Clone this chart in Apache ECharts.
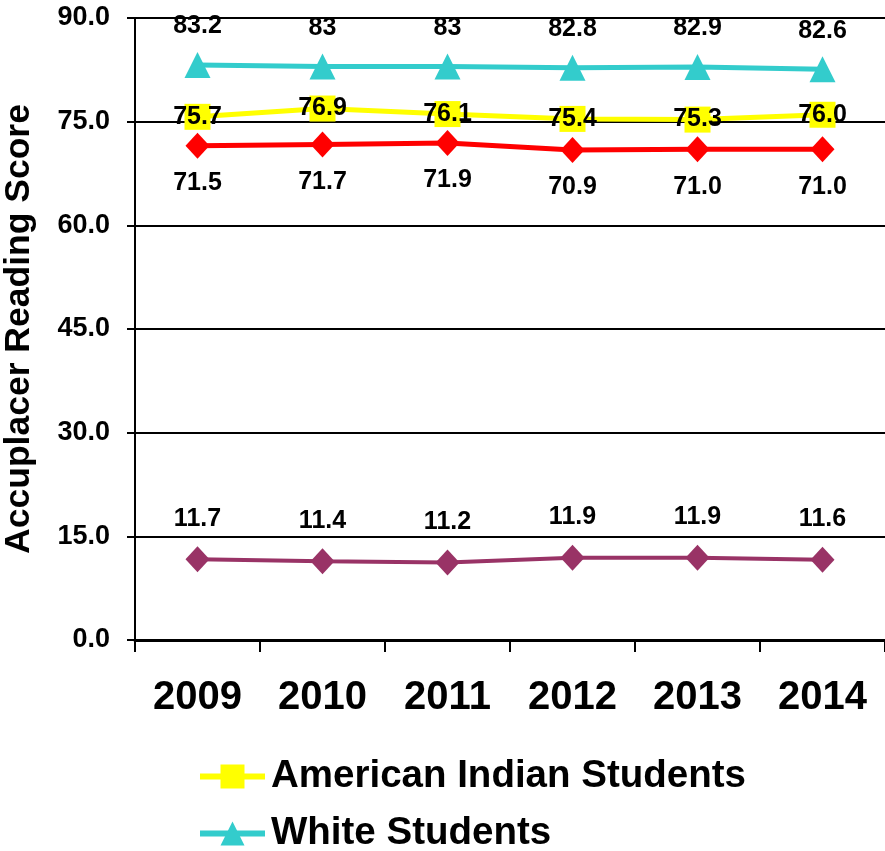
<!DOCTYPE html>
<html>
<head>
<meta charset="utf-8">
<script src="https://cdn.jsdelivr.net/npm/echarts@6/dist/echarts.min.js"></script>
<style>
  html, body { margin: 0; padding: 0; background: #fff; }
  #chart { width: 885px; height: 851px; }
</style>
</head>
<body>
<div id="chart"></div>
<script>
var years = ['2009', '2010', '2011', '2012', '2013', '2014'];
var americanIndian = [75.7, 76.9, 76.1, 75.4, 75.3, 76.0];
var white = [83.2, 83, 83, 82.8, 82.9, 82.6];
var redSeries = [71.5, 71.7, 71.9, 70.9, 71.0, 71.0];
var gapSeries = [11.7, 11.4, 11.2, 11.9, 11.9, 11.6];
var yTicks = [0, 15, 30, 45, 60, 75, 90];

var FONT = 'Liberation Sans, Arial, sans-serif';

var chart = echarts.init(document.getElementById('chart'));

function lbl(pos, offset, fmt) {
    return {
        show: true,
        position: pos,
        offset: offset,
        color: '#000',
        fontFamily: FONT,
        fontWeight: 'bold',
        fontSize: 25,
        formatter: fmt
    };
}
var fixed1 = function (p) { return p.value.toFixed(1); };

function legendFor(name, top) {
    return {
        data: [name],
        left: 197,
        top: top,
        padding: 0,
        itemWidth: 65,
        itemHeight: 30,
        lineStyle: { width: 6 },
        textStyle: { fontFamily: FONT, fontWeight: 'bold', fontSize: 38.5, color: '#000', padding: [0, 0, 0, 1] }
    };
}

var option = {
    animation: false,
    grid: { left: 135, right: 0, top: 18, bottom: 211, outerBoundsMode: 'none' },
    legend: [
        legendFor('American Indian Students', 757),
        legendFor('White Students', 814)
    ],
    xAxis: {
        type: 'category',
        data: years,
        axisLine: { lineStyle: { color: '#000', width: 3 } },
        axisTick: { show: true, length: 12, lineStyle: { color: '#000', width: 2 } },
        axisLabel: { color: '#000', fontFamily: FONT, fontWeight: 'bold', fontSize: 40, margin: 38 }
    },
    yAxis: {
        type: 'value',
        min: yTicks[0],
        max: yTicks[yTicks.length - 1],
        interval: 15,
        name: 'Accuplacer Reading Score',
        nameLocation: 'middle',
        nameGap: 98,
        nameTextStyle: { color: '#000', fontFamily: FONT, fontWeight: 'bold', fontSize: 35.5 },
        axisLine: { show: true, lineStyle: { color: '#000', width: 2 } },
        axisTick: { show: true, length: 8, lineStyle: { color: '#000', width: 2 } },
        axisLabel: {
            color: '#000', fontFamily: FONT, fontWeight: 'bold', fontSize: 27, margin: 25,
            formatter: function (v) { return v.toFixed(1); }
        },
        splitLine: { show: true, lineStyle: { color: '#000', width: 2 } }
    },
    series: [
        {
            name: 'Purple',
            type: 'line',
            data: gapSeries,
            symbol: 'diamond',
            symbolSize: [24, 26],
            lineStyle: { color: '#993366', width: 4 },
            itemStyle: { color: '#993366' },
            label: lbl('top', [0, -10], fixed1),
            z: 3
        },
        {
            name: 'Red',
            type: 'line',
            data: redSeries,
            symbol: 'diamond',
            symbolSize: [24, 26],
            lineStyle: { color: '#ff0000', width: 5 },
            itemStyle: { color: '#ff0000' },
            label: lbl('bottom', [0, 7], fixed1),
            z: 3
        },
        {
            name: 'American Indian Students',
            type: 'line',
            data: americanIndian,
            symbol: 'rect',
            symbolSize: 26,
            lineStyle: { color: '#ffff00', width: 5 },
            itemStyle: { color: '#ffff00' },
            label: lbl('inside', [0, 0], fixed1),
            z: 4
        },
        {
            name: 'White Students',
            type: 'line',
            data: white,
            symbol: 'triangle',
            symbolSize: [26, 26],
            lineStyle: { color: '#33cccc', width: 5 },
            itemStyle: { color: '#33cccc' },
            label: lbl('top', [0, -8], function (p) { return String(p.value); }),
            z: 3
        }
    ]
};

chart.setOption(option);
</script>
</body>
</html>
